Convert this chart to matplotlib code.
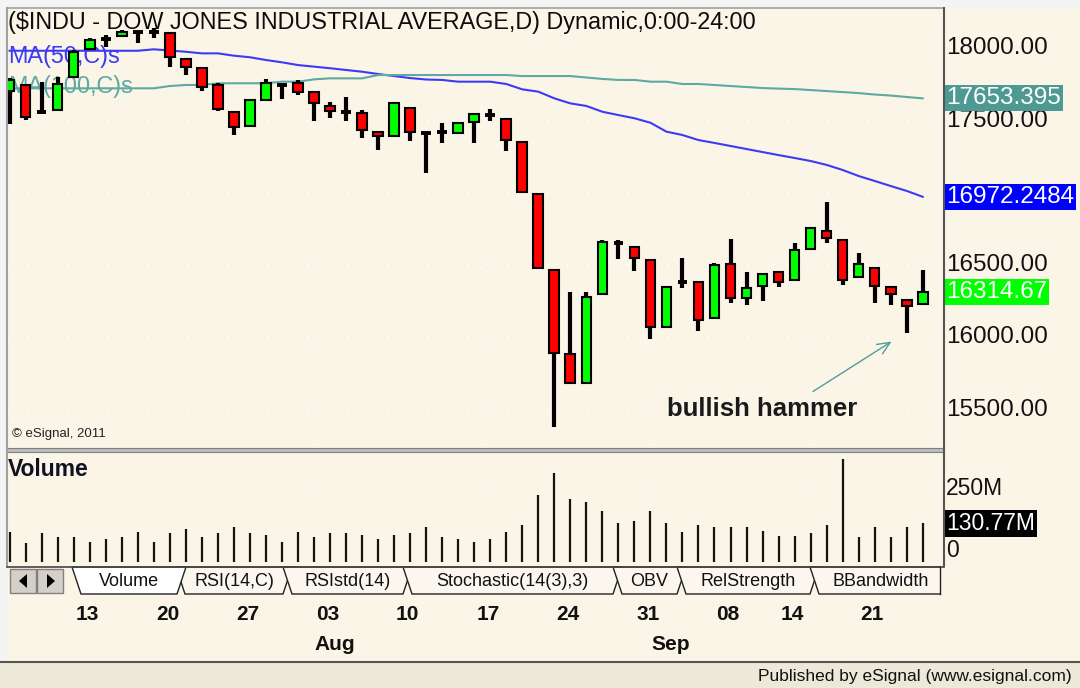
import numpy as np
import matplotlib.pyplot as plt
from matplotlib.patches import Polygon, Rectangle
from matplotlib.transforms import blended_transform_factory

# daily bars, $INDU, Jul 6 - Sep 24
opens = [17705, 17746, 17560, 17573, 17799, 17993, 18064, 18085, 18111, 18111,
         18104, 17924, 17862, 17746, 17561, 17462, 17642, 17749, 17758, 17700,
         17601, 17561, 17550, 17419, 17393, 17585, 17412, 17419, 17416, 17488,
         17538, 17509, 17354, 16990, 16466, 15884, 15686, 16300, 16655, 16628,
         16535, 16073, 16385, 16383, 16131, 16507, 16274, 16355, 16450, 16397,
         16609, 16738, 16673, 16419, 16478, 16346, 16258, 16230]
highs = [17795, 17753, 17769, 17799, 17988, 18069, 18092, 18127, 18122, 18138,
         18115, 17931, 17873, 17758, 17566, 17647, 17785, 17762, 17781, 17707,
         17630, 17661, 17576, 17423, 17630, 17592, 17423, 17481, 17492, 17550,
         17578, 17520, 17354, 16990, 16466, 16316, 16316, 16673, 16673, 16632,
         16535, 16355, 16552, 16383, 16512, 16678, 16454, 16438, 16454, 16651,
         16758, 16938, 16673, 16581, 16478, 16348, 16263, 16466]
lows = [17475, 17504, 17545, 17566, 17792, 17988, 18011, 18076, 18039, 18069,
        17873, 17815, 17707, 17568, 17400, 17457, 17637, 17647, 17677, 17499,
        17516, 17499, 17377, 17293, 17390, 17361, 17139, 17347, 17407, 17347,
        17499, 17291, 17003, 16477, 15381, 15677, 15684, 16293, 16545, 16461,
        15990, 16073, 16339, 16046, 16131, 16239, 16224, 16253, 16350, 16397,
        16608, 16655, 16362, 16408, 16240, 16224, 16032, 16224]
closes = [17780, 17527, 17558, 17753, 17976, 18057, 18064, 18115, 18111, 18111,
          17938, 17869, 17730, 17578, 17453, 17642, 17762, 17749, 17700, 17619,
          17566, 17561, 17435, 17395, 17619, 17423, 17412, 17419, 17481, 17545,
          17538, 17365, 17003, 16477, 15893, 15682, 16281, 16662, 16655, 16547,
          16073, 16350, 16385, 16120, 16500, 16270, 16343, 16436, 16385, 16604,
          16754, 16685, 16397, 16507, 16355, 16300, 16217, 16314.67]
volume_m = [102, 63, 97, 83, 83, 68, 76, 83, 102, 68,
            97, 110, 83, 97, 117, 97, 90, 68, 102, 83,
            97, 97, 90, 76, 90, 97, 117, 83, 76, 68,
            76, 102, 124, 227, 301, 213, 204, 173, 131, 139,
            173, 131, 102, 125, 117, 117, 117, 105, 89, 89,
            97, 125, 349, 83, 117, 83, 117, 130.77]
ma50 = [17983] * 9 + [17993, 17985, 17976, 17965, 17965, 17949, 17938, 17919, 17903,
        17884, 17873, 17862, 17850, 17838, 17822, 17808, 17794, 17784, 17781,
        17769, 17769, 17769, 17753, 17716, 17700, 17654, 17619, 17601, 17561,
        17538, 17516, 17485, 17423, 17400, 17365, 17345, 17324, 17303, 17282,
        17261, 17241, 17220, 17193, 17158, 17116, 17082, 17047, 17013, 16972.2484]
ma100 = [17723] * 10 + [17739, 17746, 17746, 17758, 17758, 17758, 17758, 17769, 17769,
         17785, 17792, 17792, 17792] + [17815] * 9 + [17808] * 4 + [
         17798, 17788, 17781, 17781, 17769, 17769, 17753, 17753, 17746, 17739,
         17732, 17725, 17721, 17718, 17711, 17704, 17697, 17690, 17680, 17673,
         17663, 17653.395]

price_ticks = [18000, 17500, 16500, 16000, 15500]
week_pos = [5, 10, 15, 20, 25, 30, 35, 40, 45, 49, 54]
week_lbl = ['13', '20', '27', '03', '10', '17', '24', '31', '08', '14', '21']
month_pos = [20, 41]
month_lbl = ['Aug', 'Sep']
tabs = ['Volume', 'RSI(14,C)', 'RSIstd(14)', 'Stochastic(14(3),3)', 'OBV',
        'RelStrength', 'BBandwidth']
tab_edges = [(72, 186), (176, 292), (283, 412), (403, 622), (613, 686),
             (677, 819), (810, 952)]

W, H = 1080, 688
BG = '#FBF5E8'
plt.rcParams['font.family'] = ['Liberation Sans', 'DejaVu Sans']

fig = plt.figure(figsize=(W / 100, H / 100), dpi=100)
fig.patch.set_facecolor(BG)


def rect(x0, y0, x1, y1):
    return [x0 / W, 1 - y1 / H, (x1 - x0) / W, (y1 - y0) / H]


x = np.arange(len(closes))
o, h, l, c = (np.array(a, dtype=float) for a in (opens, highs, lows, closes))
xlim = ((7 - 9.6) / 16.02, (944 - 9.6) / 16.02)

# ---------------- price panel
ax = fig.add_axes(rect(7, 8, 944, 449))
ax.set_facecolor(BG)
ax.set_xlim(xlim)
ax.set_ylim(18000 - (449 - 48.3) / 0.1445, 18000 + (48.3 - 8) / 0.1445)
for s in ax.spines.values():
    s.set_visible(False)
ax.set_xticks([])
ax.set_yticks([])
for v in [15500, 16000, 16500, 17000, 17500, 18000]:
    ax.axhline(v, color='white', lw=1.2, ls=(0, (1, 11)), zorder=0.5)
for v in [19, 29.5, 40, 50]:
    ax.axvline(v, color='white', lw=1.2, ls=(0, (1, 11)), zorder=0.5)

ax.plot(x, ma50, color='#3B3BF5', lw=1.5, zorder=2)
ax.plot(x, ma100, color='#5EA9A2', lw=1.5, zorder=2)

up = c > o + 8
dn = c < o - 8
dj = ~(up | dn)
ax.vlines(x, l, h, color='black', lw=3.0, zorder=3)
ax.bar(x[up], (c - o)[up], bottom=o[up], width=0.6, color='#00FF00',
       edgecolor='black', linewidth=1.5, zorder=4)
ax.bar(x[dn], (o - c)[dn], bottom=c[dn], width=0.6, color='#FF0000',
       edgecolor='black', linewidth=1.5, zorder=4)
ax.hlines(c[dj], x[dj] - 0.3, x[dj] + 0.3, color='black', lw=2.8, zorder=4)


def axpos(px, py):
    return (px - 7) / 937, (449 - py) / 441


ax.text(*axpos(8, 22), '($INDU - DOW JONES INDUSTRIAL AVERAGE,D) Dynamic,0:00-24:00',
        transform=ax.transAxes, fontsize=16.8, color='#0d0d0d', va='center',
        ha='left', zorder=1)
ax.text(*axpos(8, 56), 'MA(50,C)s', transform=ax.transAxes, fontsize=16.8,
        color='#3B3BF5', va='center', ha='left', zorder=1)
ax.text(*axpos(8, 86), 'MA(100,C)s', transform=ax.transAxes, fontsize=16.8,
        color='#5EA9A2', va='center', ha='left', zorder=1)
ax.text(*axpos(12, 434), '\u00a9 eSignal, 2011', transform=ax.transAxes,
        fontsize=9.5, color='#222222', va='center', ha='left', zorder=1)
ax.text(*axpos(667, 409), 'bullish hammer', transform=ax.transAxes,
        fontsize=18.5, fontweight='bold', color='#1a1a1a', va='center',
        ha='left', zorder=5)
ax.annotate('', xy=(55.2, 18000 - (340 - 48.3) / 0.1445),
            xytext=(50.0, 18000 - (393 - 48.3) / 0.1445),
            arrowprops=dict(arrowstyle='->,head_length=0.9,head_width=0.4',
                            color='#4E9E9A', lw=1.0), zorder=5)

tr = blended_transform_factory(ax.transAxes, ax.transData)
lx = 1 + 2 / 937
for v in price_ticks:
    ax.text(lx, v, f'{v:.2f}', transform=tr, fontsize=17.5, color='#111111',
            va='center', ha='left', clip_on=False)
for v, txt, fc in [(ma100[-1], '17653.395', '#4F9994'),
                   (ma50[-1], '16972.2484', '#0000FF'),
                   (closes[-1], '16314.67', '#00FF00')]:
    ax.text(lx, v, txt, transform=tr, fontsize=17.5, color='white',
            va='center', ha='left', clip_on=False,
            bbox=dict(boxstyle='square,pad=0.08', fc=fc, ec='none'))

# ---------------- volume panel
axv = fig.add_axes(rect(7, 452, 944, 566))
axv.set_facecolor(BG)
axv.set_xlim(xlim)
axv.set_ylim(-(566 - 561.7) / 0.2936, (561.7 - 452) / 0.2936)
for s in axv.spines.values():
    s.set_visible(False)
axv.set_xticks([])
axv.set_yticks([])
axv.axhline(250, color='white', lw=1.2, ls=(0, (1, 11)), zorder=0.5)
for v in [19, 29.5, 40, 50]:
    axv.axvline(v, color='white', lw=1.2, ls=(0, (1, 11)), zorder=0.5)
axv.vlines(x, 0, volume_m, color='#111111', lw=1.6, zorder=3)
axv.text((8 - 7) / 937, (566 - 470) / 114, 'Volume', transform=axv.transAxes,
         fontsize=16.5, fontweight='bold', color='#111122', va='center', ha='left')
trv = blended_transform_factory(axv.transAxes, axv.transData)
axv.text(lx, 250, '250M', transform=trv, fontsize=16.5, color='#111111',
         va='center', ha='left', clip_on=False)
axv.text(lx, 130.77, '130.77M', transform=trv, fontsize=16.5, color='white',
         va='center', ha='left', clip_on=False,
         bbox=dict(boxstyle='square,pad=0.1', fc='black', ec='none'))
axv.text(lx, 38, '0', transform=trv, fontsize=16.5, color='#111111',
         va='center', ha='left', clip_on=False)

# ---------------- date labels
axd = fig.add_axes(rect(7, 596, 944, 660))
axd.set_xlim(xlim)
axd.set_ylim(660, 596)
axd.axis('off')
for p, t in zip(week_pos, week_lbl):
    axd.text(p - 0.15, 615, t, fontsize=15, fontweight='bold', ha='center',
             va='center', color='#111111')
for p, t in zip(month_pos, month_lbl):
    axd.text(p + 0.3, 645, t, fontsize=15, fontweight='bold', ha='center',
             va='center', color='#111111')

# ---------------- frame, tabs, status bar
deco = fig.add_axes([0, 0, 1, 1], zorder=10)
deco.set_xlim(0, W)
deco.set_ylim(H, 0)
deco.axis('off')
deco.patch.set_alpha(0)
deco.add_patch(Rectangle((0, 0), W, 8, fc='#F4F4F4', ec='none'))
deco.add_patch(Rectangle((0, 0), 7, 662, fc='#F4F4F4', ec='none'))
deco.plot([7, 944], [8, 8], color='#A0A0A0', lw=1.2)
deco.plot([7, 7], [8, 566], color='#A0A0A0', lw=1.5)
deco.plot([944, 944], [8, 566], color='#555555', lw=1.5)
deco.add_patch(Rectangle((7, 448), 937, 4, fc='#BDBDBD', ec='#808080', lw=0.8))
deco.plot([7, 944], [566.5, 566.5], color='#444444', lw=1.2)

for i, (t, (a, b)) in enumerate(zip(tabs, tab_edges)):
    if i == 0:
        continue
    deco.add_patch(Polygon([(a, 567), (b, 567), (b - 9, 594), (a + 9, 594)],
                           closed=True, fc='#FBF7EE', ec='#222222', lw=1.0))
    deco.text((a + b) / 2, 581, t, fontsize=13, ha='center', va='center',
              color='#111111')
a, b = tab_edges[0]
deco.add_patch(Polygon([(a, 567), (b, 567), (b - 9, 594), (a + 9, 594)],
                       closed=True, fc='white', ec='#222222', lw=1.0))
deco.text((a + b) / 2, 581, tabs[0], fontsize=13, ha='center', va='center',
          color='#111111')
deco.add_patch(Rectangle((940.5, 566), 30, 30, fc=BG, ec='none'))
deco.plot([940, 940], [567, 594], color='#222222', lw=1.0)

for bx, tri in [(10, [(27, 574), (27, 588), (19, 581)]),
                (37, [(47, 574), (47, 588), (55, 581)])]:
    deco.add_patch(Rectangle((bx, 569), 26, 24, fc='#D4D0C8', ec='#808080', lw=1.0))
    deco.add_patch(Polygon(tri, closed=True, fc='black', ec='none'))

deco.add_patch(Rectangle((0, 662), W, 26, fc='#ECE9D8', ec='none'))
deco.plot([0, W], [662, 662], color='#555555', lw=1.5)
deco.text(1072, 676, 'Published by eSignal (www.esignal.com)', fontsize=12.5,
          ha='right', va='center', color='#111111')

fig.savefig('out.png', dpi=100, facecolor=fig.get_facecolor())
